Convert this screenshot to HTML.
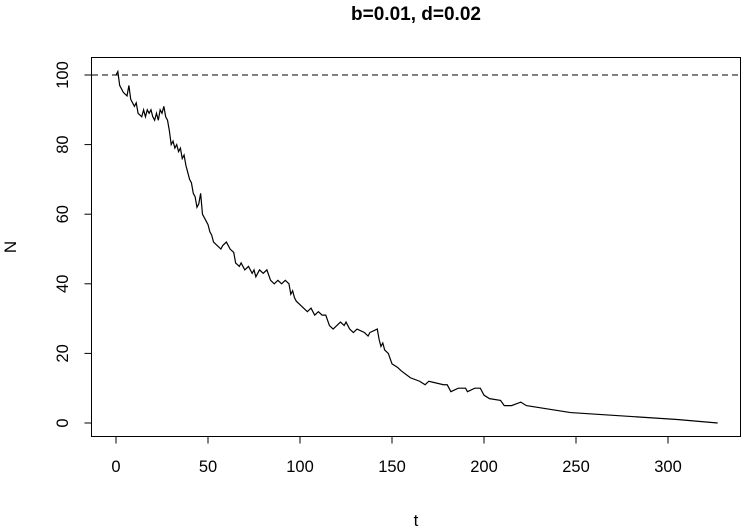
<!DOCTYPE html>
<html><head><meta charset="utf-8"><style>
body{margin:0;background:#fff;}
svg{display:block;font-family:"Liberation Sans",Arial,sans-serif;}
</style></head><body>
<svg id="chart" width="744" height="529" viewBox="0 0 744 529">
<text x="416" y="20" text-anchor="middle" font-size="19" font-weight="bold">b=0.01, d=0.02</text>
<rect x="91.5" y="57.5" width="649" height="379" fill="none" stroke="#000" stroke-width="1"/>
<g id="xaxis"></g>
<g id="yaxis"></g>
<text x="416" y="526" text-anchor="middle" font-size="17">t</text>
<text transform="translate(16,247) rotate(-90)" text-anchor="middle" font-size="17">N</text>
<g id="marks"></g>
</svg>
<script>
const tVals=[0,1,2,4,6,7,8,10,11,12,14,15,16,17,18,19,20,21,22,23,24,25,26,27,28,29,30,31,32,33,34,35,36,37,38,39,40,41,42,43,44,45,46,47,48,50,51,52,53,55,57,58,60,62,64,65,67,68,70,72,74,75,76,78,80,82,84,86,88,90,92,94,95,96,97,98,100,102,104,106,108,110,112,114,116,118,120,122,124,125,127,129,131,135,137,138,142,143,144,145,146,148,150,153,155,160,165,168,170,178,180,181,182,186,190,191,195,198,200,203,209,211,215,220,223,247,305,327];
const nVals=[100,101,97,95,94,97,93,91,92,89,88,90,88,90,89,90,88,87,89,87,90,89,91,88,87,84,80,81,79,80,78,79,76,77,74,72,70,69,66,65,62,63,66,60,59,57,55,54,52,51,50,51,52,50,49,46,45,46,44,45,43,44,42,44,43,44,41,40,41,40,41,40,37,38,36,35,34,33,32,33,31,32,31,31,28,27,28,29,28,29,27,26,27,26,25,26,27,24,22,23,21,20,17,16,15,13,12,11,12,11,11,10,9,10,10,9,10,10,8,7,6.5,5,5,6,5,3,1,0];
const xTicks=[0,50,100,150,200,250,300];
const yTicks=[0,20,40,60,80,100];
const refLine=[100];
const NS="http://www.w3.org/2000/svg";
const X=t=>116+t*1.84;
const Y=n=>423-n*3.48;
function mk(tag,attrs,parent){const e=document.createElementNS(NS,tag);for(const k in attrs)e.setAttribute(k,attrs[k]);parent.appendChild(e);return e;}
const xa=document.getElementById('xaxis'),ya=document.getElementById('yaxis'),mg=document.getElementById('marks');
mk('line',{x1:X(0),x2:X(300),y1:436.5,y2:436.5,stroke:'#000'},xa);
xTicks.forEach(v=>{
  const l=mk('line',{x1:X(v),x2:X(v),y1:436.5,y2:443.5,stroke:'#000'},xa);
  
  
  const t=mk('text',{x:X(v),y:472,'text-anchor':'middle','font-size':'16.5'},xa);t.textContent=v;
  
  
});
mk('line',{x1:91.5,x2:91.5,y1:Y(0),y2:Y(100),stroke:'#000'},ya);
yTicks.forEach(v=>{
  const l=mk('line',{x1:84.5,x2:91.5,y1:Y(v),y2:Y(v),stroke:'#000'},ya);
  
  
  const t=mk('text',{transform:`translate(68,${Y(v)}) rotate(-90)`,'text-anchor':'middle','font-size':'16.5'},ya);t.textContent=v;
  
  
});
refLine.forEach(v=>{
  const l=mk('line',{x1:92,x2:740,y1:Y(v),y2:Y(v),stroke:'#000','stroke-dasharray':'6,4'},mg);
  
  
});
const p=mk('polyline',{points:tVals.map((t,i)=>X(t)+','+Y(nVals[i])).join(' '),fill:'none',stroke:'#000','stroke-width':'1.2'},mg);


</script>
</body></html>
